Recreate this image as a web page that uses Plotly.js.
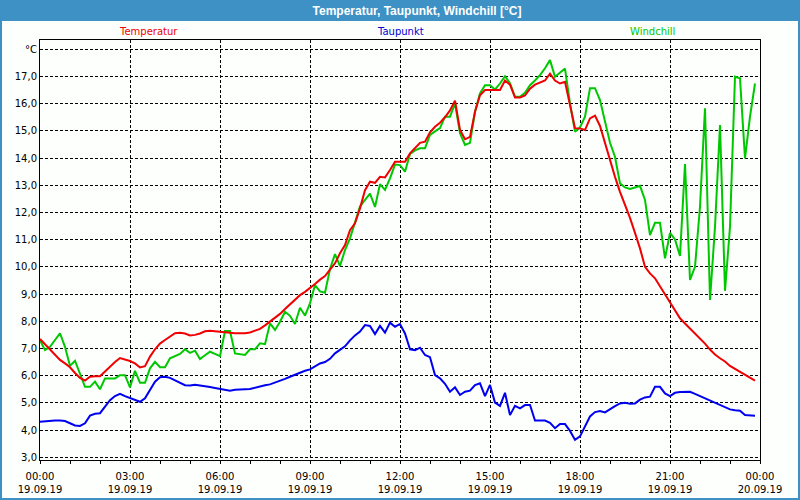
<!DOCTYPE html>
<html>
<head>
<meta charset="utf-8">
<script src="https://cdn.plot.ly/plotly-3.0.1.min.js"></script>
<style>
  html, body { margin: 0; padding: 0; background: #ffffff; }
  #chart { width: 800px; height: 500px; }
</style>
</head>
<body>
<div id="chart"></div>
<script>
// Messwerte 19.09.19, alle 10 Minuten (00:00 bis 23:50)
const temperatur = [
  7.35, 7.15, 6.94, 6.76, 6.58, 6.45, 6.31, 6.10, 5.92, 5.82, 5.96, 5.98,
  5.98, 6.15, 6.33, 6.50, 6.65, 6.60, 6.54, 6.45, 6.30, 6.35, 6.70, 6.97,
  7.18, 7.31, 7.45, 7.56, 7.58, 7.55, 7.48, 7.50, 7.55, 7.63, 7.65, 7.63,
  7.62, 7.60, 7.56, 7.56, 7.56, 7.56, 7.59, 7.65, 7.72, 7.85, 7.98, 8.12,
  8.27, 8.45, 8.62, 8.80, 8.96, 9.08, 9.21, 9.37, 9.53, 9.66, 9.90, 10.13,
  10.50, 10.80, 11.35, 11.60, 12.15, 12.82, 13.13, 13.09, 13.31, 13.29, 13.56, 13.86,
  13.86, 13.86, 14.17, 14.35, 14.56, 14.60, 14.95, 15.15, 15.30, 15.50, 15.75, 16.11,
  15.03, 14.69, 14.78, 15.70, 16.31, 16.50, 16.50, 16.50, 16.50, 16.85, 16.70, 16.23,
  16.23, 16.30, 16.55, 16.70, 16.77, 16.85, 17.10, 16.85, 16.74, 16.80, 15.95, 15.10,
  15.09, 15.03, 15.46, 15.56, 15.18, 14.54, 13.93, 13.31, 12.76, 12.30, 11.80, 11.25,
  10.68, 10.00, 9.76, 9.58, 9.28, 9.00, 8.72, 8.42, 8.11, 7.92, 7.74, 7.56,
  7.37, 7.18, 6.96, 6.78, 6.64, 6.52, 6.36, 6.25, 6.15, 6.03, 5.91, 5.82
];
const taupunkt = [
  4.31, 4.33, 4.35, 4.35, 4.35, 4.33, 4.25, 4.17, 4.15, 4.25, 4.53, 4.60,
  4.62, 4.85, 5.10, 5.25, 5.33, 5.25, 5.18, 5.10, 5.04, 5.17, 5.50, 5.78,
  5.94, 5.96, 5.92, 5.82, 5.72, 5.65, 5.64, 5.67, 5.64, 5.60, 5.58, 5.55,
  5.52, 5.48, 5.45, 5.48, 5.50, 5.50, 5.51, 5.56, 5.62, 5.65, 5.68, 5.74,
  5.82, 5.88, 5.96, 6.04, 6.12, 6.18, 6.23, 6.34, 6.45, 6.50, 6.62, 6.82,
  6.95, 7.08, 7.30, 7.48, 7.62, 7.86, 7.83, 7.53, 7.83, 7.58, 7.95, 7.80,
  7.90, 7.55, 6.97, 6.94, 7.03, 6.76, 6.68, 6.02, 5.90, 5.70, 5.41, 5.57,
  5.29, 5.41, 5.45, 5.65, 5.72, 5.25, 5.66, 5.01, 4.89, 5.37, 4.55, 4.89,
  4.80, 4.92, 4.92, 4.35, 4.35, 4.35, 4.27, 4.07, 4.22, 4.22, 3.97, 3.64,
  3.77, 4.13, 4.50, 4.66, 4.70, 4.65, 4.78, 4.88, 4.98, 5.00, 4.97, 4.98,
  5.12, 5.20, 5.23, 5.59, 5.59, 5.35, 5.25, 5.37, 5.40, 5.41, 5.41, 5.33,
  5.25, 5.19, 5.08, 5.00, 4.92, 4.84, 4.76, 4.73, 4.71, 4.55, 4.53, 4.53
];
const windchill = [
  7.30, 6.94, 7.06, 7.30, 7.56, 7.06, 6.36, 6.55, 6.08, 5.59, 5.59, 5.78,
  5.50, 5.90, 5.90, 5.90, 6.02, 6.02, 5.57, 6.18, 5.74, 5.74, 6.27, 6.51,
  6.31, 6.31, 6.64, 6.72, 6.80, 6.97, 6.84, 6.92, 6.61, 6.75, 6.88, 6.80,
  6.72, 7.64, 7.64, 6.82, 6.80, 6.76, 6.97, 6.97, 7.19, 7.16, 7.92, 7.68,
  7.98, 8.35, 8.20, 7.90, 8.50, 8.21, 8.66, 9.33, 9.10, 9.05, 9.92, 10.47,
  10.03, 10.62, 11.05, 11.65, 12.22, 12.46, 12.69, 12.20, 13.04, 12.83, 13.25, 13.76,
  13.74, 13.50, 14.15, 14.28, 14.36, 14.36, 14.85, 14.98, 15.10, 15.52, 15.52, 16.01,
  14.91, 14.48, 14.56, 15.70, 16.38, 16.68, 16.68, 16.52, 16.74, 17.01, 16.75, 16.25,
  16.25, 16.40, 16.68, 16.85, 17.05, 17.30, 17.60, 16.99, 17.14, 17.29, 16.01, 14.97,
  15.13, 15.52, 16.57, 16.57, 16.13, 15.33, 14.56, 14.05, 13.07, 12.92, 12.86, 12.92,
  12.98, 12.46, 11.17, 11.62, 11.62, 10.31, 11.25, 11.01, 10.40, 13.78, 9.52, 10.00,
  12.21, 15.83, 8.78, 11.47, 15.21, 9.12, 11.47, 16.99, 16.93, 13.99, 15.52, 16.74
];

const xTickTimes = ["00:00", "03:00", "06:00", "09:00", "12:00", "15:00", "18:00", "21:00", "00:00"];
const xTickDates = ["19.09.19", "19.09.19", "19.09.19", "19.09.19", "19.09.19", "19.09.19", "19.09.19", "19.09.19", "20.09.19"];
const yTickVals = [3, 4, 5, 6, 7, 8, 9, 10, 11, 12, 13, 14, 15, 16, 17, 18];
const yTickText = ["3,0", "4,0", "5,0", "6,0", "7,0", "8,0", "9,0", "10,0", "11,0", "12,0", "13,0", "14,0", "15,0", "16,0", "17,0", "°C"];

const start = new Date(Date.UTC(2019, 8, 19, 0, 0));
function stamp(d) {
  return d.toISOString().slice(0, 16).replace("T", " ");
}
const zeit = temperatur.map((_, i) => stamp(new Date(start.getTime() + i * 600000)));
const tickVals = xTickTimes.map((_, i) => stamp(new Date(start.getTime() + i * 3 * 3600000)));
const tickText = xTickTimes.map((t, i) => `${t}<br>${xTickDates[i]}`);

const blau = "#3d91c4";
const font = "DejaVu Sans, sans-serif";

const traces = [
  { x: zeit, y: windchill, name: "Windchill", line: { color: "#00c800", width: 2 } },
  { x: zeit, y: taupunkt, name: "Taupunkt", line: { color: "#0000f0", width: 2 } },
  { x: zeit, y: temperatur, name: "Temperatur", line: { color: "#f00000", width: 2 } }
].map(t => Object.assign({ type: "scatter", mode: "lines", hoverinfo: "skip" }, t));

// Pixel -> Papierkoordinaten (Plotfläche 40..760 x 40..460)
const px = v => (v - 40) / 720;
const py = v => (460 - v) / 420;

const layout = {
  width: 800,
  height: 500,
  margin: { l: 40, r: 40, t: 40, b: 40 },
  paper_bgcolor: "#fcfffc",
  plot_bgcolor: "#fcfffc",
  showlegend: false,
  font: { family: font, size: 10, color: "#000000" },
  title: {
    text: "<b>Temperatur, Taupunkt, Windchill [°C]</b>",
    font: { family: "Liberation Sans, sans-serif", size: 12, color: "#ffffff" },
    xref: "container", yref: "container",
    x: 417 / 800, y: 1 - 10.5 / 500,
    xanchor: "center", yanchor: "middle"
  },
  xaxis: {
    type: "date",
    range: [stamp(start), stamp(new Date(start.getTime() + 24 * 3600000))],
    tickvals: tickVals,
    ticktext: tickText,
    ticks: "outside",
    ticklen: 3,
    tickcolor: "#000000",
    ticklabelstandoff: 4,
    minor: { dtick: 3600000, ticks: "outside", ticklen: 3, tickcolor: "#000000", showgrid: false },
    showgrid: true,
    gridcolor: "#000000",
    griddash: "3px,2px",
    gridwidth: 1,
    showline: true,
    linecolor: "#000000",
    linewidth: 1,
    mirror: true,
    zeroline: false,
    fixedrange: true
  },
  yaxis: {
    range: [2.9, 18.34],
    tickvals: yTickVals,
    ticktext: yTickText,
    ticks: "",
    showgrid: true,
    gridcolor: "#000000",
    griddash: "3px,2px",
    gridwidth: 1,
    showline: true,
    linecolor: "#000000",
    linewidth: 1,
    mirror: true,
    zeroline: false,
    fixedrange: true
  },
  shapes: [
    { type: "rect", xref: "paper", yref: "paper", layer: "below",
      x0: px(0), x1: px(800), y0: py(21), y1: py(0),
      fillcolor: blau, line: { width: 0 } },
    { type: "rect", xref: "paper", yref: "paper", layer: "above",
      x0: px(1), x1: px(799), y0: py(499), y1: py(1),
      line: { color: blau, width: 2 } }
  ],
  annotations: [
    { text: "Temperatur", x: 0.15, font: { color: "#f00000" } },
    { text: "Taupunkt", x: 0.5, font: { color: "#0000d0" } },
    { text: "Windchill", x: 0.85, font: { color: "#00c800" } }
  ].map(a => Object.assign({ xref: "paper", yref: "paper", y: py(31), showarrow: false,
    xanchor: "center", yanchor: "middle" }, a, { font: Object.assign({ family: font, size: 10 }, a.font) }))
};

Plotly.newPlot("chart", traces, layout, { staticPlot: true, displayModeBar: false });
</script>
</body>
</html>
